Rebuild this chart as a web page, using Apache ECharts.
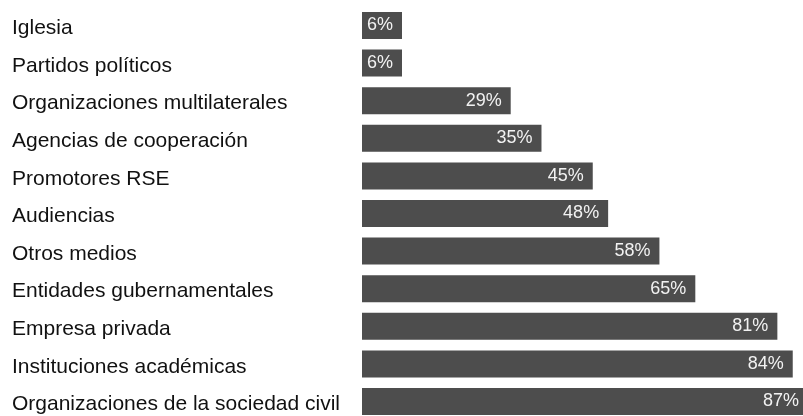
<!DOCTYPE html>
<html>
<head>
<meta charset="utf-8">
<script src="https://cdn.jsdelivr.net/npm/echarts@6/dist/echarts.min.js"></script>
<style>
  html, body { margin: 0; padding: 0; background: #fff; }
  #chart { width: 803px; height: 416px; }
</style>
</head>
<body>
<div id="chart"></div>
<script>
// categorias (de arriba a abajo) y porcentajes
var categories = [
  'Iglesia',
  'Partidos políticos',
  'Organizaciones multilaterales',
  'Agencias de cooperación',
  'Promotores RSE',
  'Audiencias',
  'Otros medios',
  'Entidades gubernamentales',
  'Empresa privada',
  'Instituciones académicas',
  'Organizaciones de la sociedad civil'
];
var values = [6, 6, 29, 35, 45, 48, 58, 65, 81, 84, 87];

var fontFam = '"Liberation Sans", Helvetica, Arial, sans-serif';

var myChart = echarts.init(document.getElementById('chart'));
var option = {
  animation: false,
  grid: {
    left: 362,
    right: 0,
    top: 25.5,
    height: 376,
    containLabel: false
  },
  xAxis: {
    type: 'value',
    min: 0,
    max: 86,   // la ultima barra se sale un poco del lienzo
    show: false
  },
  yAxis: {
    type: 'category',
    inverse: true,
    boundaryGap: false,
    data: categories,
    axisLine: { show: false },
    axisTick: { show: false },
    splitLine: { show: false },
    axisLabel: {
      align: 'left',
      margin: 350,
      formatter: function (v) { return '{t|' + v + '}'; },
      rich: {
        t: {
          color: '#111',
          fontSize: 21,
          fontFamily: fontFam,
          padding: [6, 0, 0, 0]
        }
      }
    }
  },
  series: [
    {
      type: 'bar',
      data: values,
      barWidth: 27,
      barMinHeight: 40,
      clip: false,
      itemStyle: { color: '#4d4d4d' },
      label: {
        show: true,
        position: 'insideRight',
        distance: 9,
        color: '#f2f2f2',
        fontSize: 18,
        fontFamily: fontFam,
        formatter: function (p) { return p.value + '%'; }
      }
    }
  ]
};
myChart.setOption(option);
</script>
</body>
</html>
